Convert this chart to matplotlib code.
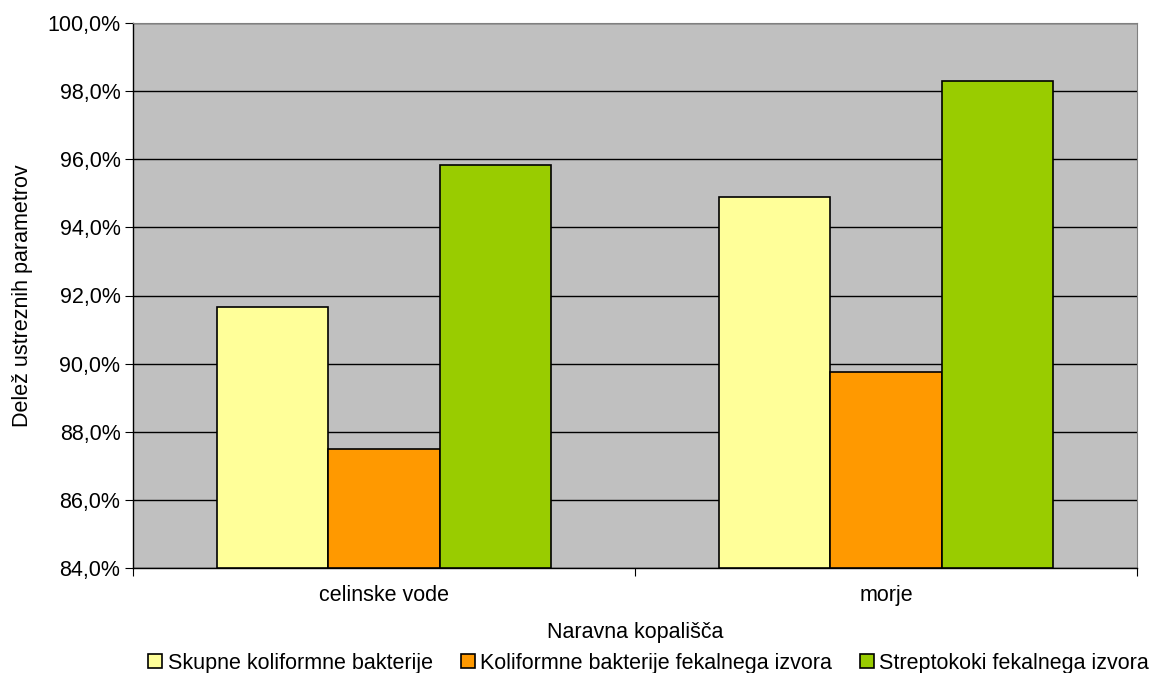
import numpy as np
import matplotlib
matplotlib.use('Agg')
from matplotlib import pyplot as plt
from matplotlib.patches import Patch

plt.rcParams['font.family'] = ['Liberation Sans', 'DejaVu Sans']

# data
categories = ['celinske vode', 'morje']
series_names = ['Skupne koliformne bakterije',
                'Koliformne bakterije fekalnega izvora',
                'Streptokoki fekalnega izvora']
skupne = [91.66, 94.88]
koliformne_fek = [87.48, 89.74]
strepto_fek = [95.83, 98.29]
series_colors = ['#FFFF99', '#FF9900', '#99CC00']
yticks = [84, 86, 88, 90, 92, 94, 96, 98, 100]

FS = 15.5

fig = plt.figure(figsize=(11.69, 6.73), dpi=100)
ax = fig.add_axes([133 / 1169, 1 - 568 / 673, 1004 / 1169, 545 / 673])
ax.set_facecolor('#C0C0C0')

x = np.arange(len(categories))
w = 1 / 4.5
for i, (vals, col) in enumerate(zip([skupne, koliformne_fek, strepto_fek], series_colors)):
    ax.bar(x + (i - 1) * w, np.array(vals) - 84, bottom=84, width=w,
           color=col, edgecolor='black', linewidth=1.2, zorder=3)

ax.set_xlim(-0.5, 1.5)
ax.set_ylim(84, 100)
ax.set_yticks(yticks)
ax.set_yticklabels([('%.1f%%' % v).replace('.', ',') for v in yticks])
ax.yaxis.grid(True, color='black', linewidth=1.0, zorder=1)
ax.set_axisbelow(True)

ax.set_xticks([-0.5, 0.5, 1.5])
ax.set_xticklabels([])
ax.set_xticks(x, minor=True)
ax.set_xticklabels(categories, minor=True)
ax.tick_params(axis='x', which='minor', length=0, pad=12, labelsize=FS)
ax.tick_params(axis='x', which='major', length=6, direction='out', color='black')
ax.tick_params(axis='y', length=6, direction='out', labelsize=FS, pad=3)

for side in ['top', 'right']:
    ax.spines[side].set_color('#808080')
for side in ['left', 'bottom']:
    ax.spines[side].set_color('black')
    ax.spines[side].set_linewidth(1.0)

ax.set_xlabel('Naravna kopališča', fontsize=FS, labelpad=12)
ax.set_ylabel('Delež ustreznih parametrov', fontsize=FS, labelpad=10)

handles = [Patch(facecolor=c, edgecolor='black', linewidth=1.2) for c in series_colors]
fig.legend(handles, series_names, loc='center', bbox_to_anchor=(0.555, 1 - 663 / 673),
           ncol=3, frameon=False, fontsize=FS, handlelength=0.65, handleheight=0.65,
           handletextpad=0.25, columnspacing=1.3, borderaxespad=0)

fig.savefig('out.png', dpi=100)
